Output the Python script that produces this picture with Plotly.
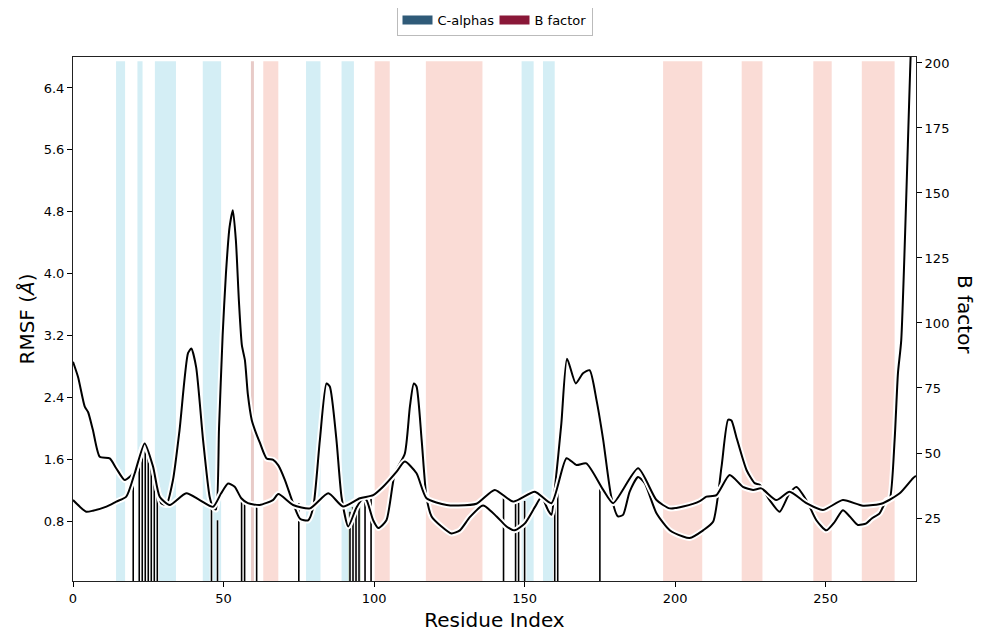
import plotly.graph_objects as go

# ---------------- data ----------------
rmsf_res = [0, 1.7, 3.9, 5, 6.6, 8.9, 12.2, 14.4, 17.2, 20.5, 23.8, 26.6, 29.3, 31, 33.2, 35.4,
            38.2, 39.3, 40.9, 43.2, 45.4, 46.5, 47.5, 48.5, 49.7, 50.8, 52, 53.1, 54.1, 55.1,
            56.1, 57.1, 58.1, 59.4, 60.4, 62.1, 64.3, 66.5, 68.2, 70.4, 73.1, 75.4, 78.1, 79.8,
            82, 84.2, 85.3, 87.5, 89.2, 91.4, 94.2, 96.4, 97.5, 99.7, 101.4, 104.1, 106.9,
            110.2, 111.9, 113.2, 114.1, 115.8, 117.4, 119.1, 122.4, 125.7, 128.5, 131.8, 136.2,
            140.7, 144, 146.7, 150.1, 153.4, 155.6, 157.8, 158.9, 160, 162.2, 164.1, 167, 169.4,
            171.6, 173.9, 176.1, 178.8, 181, 182.7, 184.9, 187.7, 189.9, 193.8, 198.2, 202.6,
            204.8, 209.3, 212.6, 215.4, 217.6, 218.7, 220.3, 223.7, 226.4, 228.1, 231.4, 234.7,
            238, 240.3, 243.6, 246.9, 250.2, 253, 255.7, 258, 260.7, 263.5, 265.2, 267.9, 270.2,
            271.3, 272.9, 274, 275.1, 278.2, 280]
rmsf_val = [2.86, 2.66, 2.28, 2.21, 1.98, 1.63, 1.61, 1.48, 1.33, 1.44, 1.80, 1.50, 1.03, 1.01, 1.33, 1.98,
            2.97, 3.03, 2.79, 1.85, 1.11, 0.98, 0.95, 2.0, 3.2, 4.0, 4.6, 4.82, 4.43, 3.65,
            3.07, 2.88, 2.43, 2.10, 1.98, 1.81, 1.61, 1.59, 1.52, 1.33, 1.03, 0.83, 0.81, 0.98,
            1.85, 2.58, 2.54, 1.85, 1.11, 0.73, 0.98, 1.09, 1.07, 0.81, 0.71, 0.81, 1.42,
            1.67, 2.28, 2.58, 2.54, 1.85, 1.11, 0.86, 0.73, 0.64, 0.68, 0.85, 1.0,
            0.86, 0.73, 0.68, 0.77, 0.98, 1.11, 0.94, 0.88, 1.20, 2.06, 2.90, 2.58, 2.71,
            2.75, 2.36, 1.85, 1.11, 0.86, 0.88, 1.18, 1.37, 1.29, 0.90, 0.68, 0.60,
            0.58, 0.68, 0.79, 1.50, 2.11, 2.10, 1.89, 1.46, 1.29, 1.27, 1.07, 0.92,
            1.16, 1.24, 1.07, 0.81, 0.68, 0.79, 0.94, 0.86, 0.75, 0.77, 0.83, 0.90, 1.07,
            1.09, 1.85, 2.71, 3.14, 6.79, 8.6]

bfac_res = [0, 2.2, 4.4, 6.6, 11.1, 14.4, 17.7, 20.5, 23.8, 26.6, 28.8, 32.1, 37.6, 42.1, 46.5,
            49.2, 51.5, 53.7, 55.9, 58.1, 62, 66.4, 68.2, 73.1, 78.7, 84.8, 89.7, 95.3, 99.7,
            103, 107.5, 110.2, 114.1, 117.4, 124.1, 128, 134, 140.1, 146.2, 153.4, 158.9,
            163.9, 167.2, 170.5, 176.1, 179.4, 187.7, 193.8, 198.2, 203, 208.2, 210.4, 213.7,
            218.1, 222.5, 225.9, 228.6, 233.6, 238, 243.6, 249.1, 255.7, 262.4, 269, 274.6,
            279, 280]
bfac_val = [31.9, 29.4, 27.4, 27.8, 29.4, 31.3, 33.2, 42.2, 53.7, 44.7, 33.2, 30.0, 34.5, 31.9, 29.3,
            34.5, 38.3, 37.0, 32.6, 30.7, 30.0, 31.9, 34.2, 30.0, 28.7, 34.5, 29.4, 32.6, 33.8,
            37.0, 42.8, 46.7, 42.2, 32.6, 30.0, 29.8, 30.5, 35.8, 31.3, 35.1, 30.7,
            48.0, 45.4, 46.0, 35.8, 30.7, 44.1, 31.9, 28.7, 29.5, 31.5, 33.2, 33.8,
            41.5, 37.0, 35.8, 36.4, 31.9, 35.1, 30.7, 28.1, 31.9, 29.7, 30.7, 34.5,
            40.3, 41.2]

helix_start = [14.3, 21.4, 27.2, 43.1, 77.4, 89.2, 149.0, 156.1]
helix_end = [17.3, 23.1, 34.2, 49.2, 82.2, 93.3, 153.0, 160.0]
strand_start = [59.1, 63.2, 100.2, 117.2, 196.0, 222.1, 245.9, 262.0]
strand_end = [60.1, 68.2, 105.2, 136.0, 209.0, 229.0, 252.0, 272.9]

site_res = [20, 22, 23, 24, 25, 26, 27, 28, 46, 48, 56, 57, 61, 75, 92, 93, 94, 95, 97, 99,
            143, 147, 148, 150, 160, 161, 175]
site_top = [1.45, 1.65, 1.76, 1.80, 1.74, 1.60, 1.42, 1.20, 0.98, 0.81, 1.05, 1.05, 1.0, 1.03,
            0.92, 0.98, 1.0, 1.03, 1.08, 1.09, 1.1, 1.03, 1.04, 1.06, 1.2, 1.35, 1.29]

pocket_res = [22, 23, 24, 25, 26, 27, 28, 92, 93, 94, 95]
pocket_top = [1.65, 1.76, 1.80, 1.74, 1.60, 1.42, 1.20, 0.92, 0.98, 1.0, 1.03]

rmsf_ticks = [0.8, 1.6, 2.4, 3.2, 4.0, 4.8, 5.6, 6.4]
bfac_ticks = [25, 50, 75, 100, 125, 150, 175, 200]
x_ticks = [0, 50, 100, 150, 200, 250]

# ---------------- figure ----------------
FONT = "DejaVu Sans"
fig = go.Figure()

shapes = []
for a, b in zip(helix_start, helix_end):
    shapes.append(dict(type="rect", xref="x", yref="y domain", x0=a, x1=b, y0=0, y1=0.992,
                       fillcolor="#d4eef5", line=dict(width=0), layer="below"))
for a, b in zip(strand_start, strand_end):
    col = "#e8cbc8" if (b - a) < 1.5 else "#fadcd6"
    shapes.append(dict(type="rect", xref="x", yref="y domain", x0=a, x1=b, y0=0, y1=0.992,
                       fillcolor=col, line=dict(width=0), layer="below"))

# green pocket fill
fig.add_trace(go.Bar(x=pocket_res, y=pocket_top, width=1, marker=dict(color="#2f6f2f", line=dict(width=0)),
                     showlegend=False, hoverinfo="skip", yaxis="y"))

# vertical site lines
vx, vy = [], []
for r, t in zip(site_res, site_top):
    vx += [r, r, None]
    vy += [0, t, None]
fig.add_trace(go.Scatter(x=vx, y=vy, mode="lines", line=dict(color="white", width=3.5),
                         showlegend=False, hoverinfo="skip"))
fig.add_trace(go.Scatter(x=vx, y=vy, mode="lines", line=dict(color="black", width=1.6),
                         showlegend=False, hoverinfo="skip"))

# curves with white glow
SM = 0.6
fig.add_trace(go.Scatter(x=bfac_res, y=bfac_val, yaxis="y2", mode="lines",
                         line=dict(color="white", width=6, shape="spline", smoothing=SM),
                         showlegend=False, hoverinfo="skip"))
fig.add_trace(go.Scatter(x=rmsf_res, y=rmsf_val, mode="lines",
                         line=dict(color="white", width=6, shape="spline", smoothing=SM),
                         showlegend=False, hoverinfo="skip"))
fig.add_trace(go.Scatter(x=bfac_res, y=bfac_val, yaxis="y2", mode="lines",
                         line=dict(color="black", width=2, shape="spline", smoothing=SM),
                         showlegend=False))
fig.add_trace(go.Scatter(x=rmsf_res, y=rmsf_val, mode="lines",
                         line=dict(color="black", width=2, shape="spline", smoothing=SM),
                         showlegend=False))

# legend entries
fig.add_trace(go.Scatter(x=[None], y=[None], mode="lines", name="C-alphas",
                         line=dict(color="#2f5a78", width=9)))
fig.add_trace(go.Scatter(x=[None], y=[None], mode="lines", name="B factor",
                         line=dict(color="#8a1838", width=9)))

fig.update_layout(
    width=987, height=640,
    margin=dict(l=65, r=79, t=49, b=67, autoexpand=False),
    plot_bgcolor="white", paper_bgcolor="white",
    font=dict(family=FONT, size=13, color="black"),
    shapes=shapes,
    bargap=0,
    showlegend=True,
    legend=dict(orientation="h", xref="paper", x=0.5, xanchor="center",
                yref="container", y=0.981, yanchor="middle",
                bordercolor="#bbbbbb", borderwidth=1, font=dict(size=13),
                itemwidth=30, entrywidth=52, tracegroupgap=0),
    xaxis=dict(range=[0, 280], tickvals=x_ticks, ticks="outside", ticklen=5, tickcolor="black",
               showline=True, linecolor="#222", linewidth=1, mirror=True, showgrid=False,
               zeroline=False, tickfont=dict(size=13), automargin=False,
               title=dict(text="Residue Index", font=dict(size=20), standoff=8)),
    yaxis=dict(range=[0.025, 6.8], tickvals=rmsf_ticks, ticktext=[f"{v:.1f}" for v in rmsf_ticks],
               ticks="outside", ticklen=5, tickcolor="black", automargin=False,
               showline=True, linecolor="#222", linewidth=1, mirror=True, showgrid=False,
               zeroline=False, tickfont=dict(size=13),
               title=dict(text="RMSF (<i>Å</i>)", font=dict(size=20), standoff=3)),
    yaxis2=dict(range=[0.77, 202.3], tickvals=bfac_ticks, overlaying="y", side="right",
                ticks="outside", ticklen=5, tickcolor="black", showline=True, linecolor="#222",
                showgrid=False, zeroline=False, tickfont=dict(size=13), automargin=False),
    annotations=[dict(text="B factor", xref="paper", yref="paper", x=1.058, y=0.508,
                      showarrow=False, textangle=90, font=dict(size=20),
                      xanchor="center", yanchor="middle")],
)

fig.write_html("out.html")
